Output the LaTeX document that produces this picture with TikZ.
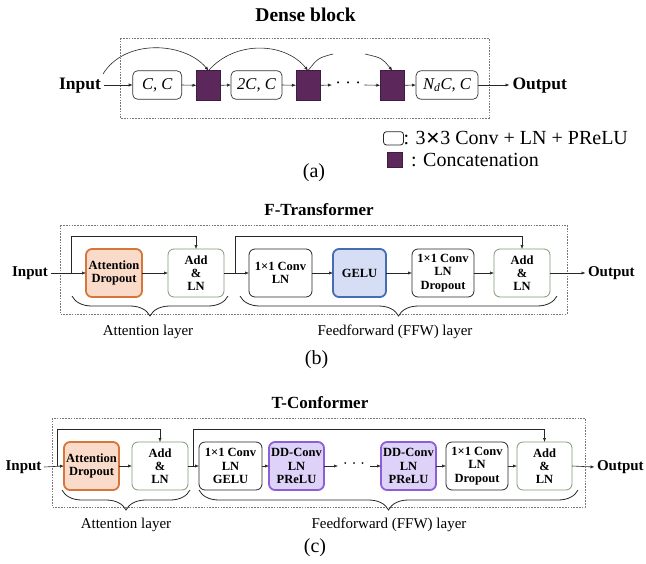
\documentclass[tikz,border=0pt]{standalone}
\usepackage{fontspec}
\setmainfont{Liberation Serif}
\newfontfamily\symfont{DejaVu Sans}
\usetikzlibrary{arrows.meta,decorations.pathreplacing,calc}

\definecolor{catpurple}{RGB}{92,40,92}
\definecolor{attfill}{RGB}{250,218,200}
\definecolor{attline}{RGB}{214,118,58}
\definecolor{gelufill}{RGB}{214,222,245}
\definecolor{geluline}{RGB}{70,108,180}
\definecolor{ddfill}{RGB}{222,210,248}
\definecolor{ddline}{RGB}{140,95,215}
\definecolor{addgreen}{RGB}{125,152,115}
\definecolor{framegray}{RGB}{120,120,120}

\begin{document}
\begin{tikzpicture}[x=1pt,y=-1pt,
  every node/.style={inner sep=0pt, outer sep=0pt},
  arr/.style={-{Latex[length=4pt,width=3.2pt]}, line width=0.6pt, draw=black!85},
  ln/.style={line width=0.6pt, draw=black!85},
  frame/.style={draw=framegray, dash pattern=on 1.6pt off 1.2pt, line width=0.6pt},
  convbox/.style={draw=black!80, rounded corners=5pt, line width=0.7pt,
    minimum height=28.6pt, font=\fontsize{16.5}{18}\selectfont\itshape},
  catbox/.style={fill=catpurple, draw=catpurple!70!black, line width=0.4pt,
    minimum width=24pt, minimum height=29.3pt},
  blk/.style={rounded corners=6pt, minimum height=48pt, align=center,
    font=\fontsize{12.5}{13.3}\selectfont\bfseries},
  plainbox/.style={blk, draw=black!85, line width=0.8pt},
  addbox/.style={blk, draw=addgreen, line width=0.8pt},
  attbox/.style={blk, draw=attline, fill=attfill, line width=1.8pt},
  gelubox/.style={blk, draw=geluline, fill=gelufill, line width=1.8pt},
  ddbox/.style={blk, draw=ddline, fill=ddfill, line width=1.8pt},
  iolabel/.style={font=\fontsize{15}{17}\selectfont\bfseries, inner xsep=2.5pt},
  title/.style={font=\fontsize{17}{19}\selectfont\bfseries},
  sublabel/.style={font=\fontsize{20}{22}\selectfont},
  layerlabel/.style={font=\fontsize{15}{17}\selectfont},
  legendtext/.style={font=\fontsize{20}{22}\selectfont},
  bracedown/.style={decorate, decoration={brace, mirror, amplitude=20pt}, line width=0.8pt, draw=black!85},
  dotsnode/.style={font=\fontsize{17}{17}\selectfont},
]
\useasboundingbox (0,0) rectangle (646,563);

% ---------------- (a) Dense block ----------------
\node[font=\fontsize{19.5}{21}\selectfont\bfseries] (atitle) at (305.6,15) {Dense block};
\draw[frame] (120,38) rectangle (489,118);

\node[font=\fontsize{17.5}{19}\selectfont\bfseries, anchor=east, inner xsep=3pt] (ain) at (104,86) {Input};
\node[convbox, minimum width=49pt] (c1) at (157.2,85) {C, C};
\node[catbox] (p1) at (208.5,85.3) {};
\node[convbox, minimum width=51pt] (c2) at (256.5,85) {2C, C};
\node[catbox] (p2) at (308,85.3) {};
\node[dotsnode, minimum width=32.4pt] (adots) at (348.2,85) {· · ·};
\node[catbox] (p3) at (392.3,85.3) {};
\node[convbox, minimum width=62pt] (c3) at (447,85) {N\textsubscript{d}C, C};
\node[font=\fontsize{17.5}{19}\selectfont\bfseries, anchor=west, inner xsep=3pt] (aout) at (509.5,86) {Output};

\draw[arr] (ain.east |- c1.west) -- (c1.west);
\draw[arr] (c1.east) -- (p1.west);
\draw[arr] (p1.east) -- (c2.west);
\draw[arr] (c2.east) -- (p2.west);
\draw[arr] (p2.east) -- (adots.west);
\draw[arr] (adots.east) -- (p3.west);
\draw[arr] (p3.east) -- (c3.west);
\draw[arr] (c3.east) -- (aout.west |- c3.east);

% dense skip connections
\coordinate (a0) at (103,74);
\coordinate (a3end) at (333,54);
\coordinate (a4start) at (365,54);
\draw[arr] (a0) .. controls (125,38) and (185,42) .. (p1.north);
\draw[arr] (p1.north) .. controls (235,40) and (285,42) .. (p2.north);
\draw[ln] (p2.north) .. controls (318,58) .. (a3end);
\draw[arr] (a4start) .. controls (382,58) .. (p3.north);

% legend
\node[draw=black!85, rounded corners=3pt, line width=0.8pt, minimum width=20pt, minimum height=13.3pt] (legconv) at (393.5,138.3) {};
\node[anchor=west, legendtext] (legconvtxt) at (legconv.east) {: 3{\symfont\fontsize{17.5}{19}\selectfont ✕}3 Conv + LN + PReLU};
\node[catbox, minimum width=15pt, minimum height=15pt] (legcat) at (394.5,159.5) {};
\node[anchor=west, legendtext] (legcattxt) at (411,160) {: Concatenation};

\node[sublabel] (alabel) at (314,173) {(a)};

% ---------------- (b) F-Transformer ----------------
\node[title] (btitle) at (319,210) {F-Transformer};
\draw[frame] (60,225) rectangle (567,314);

\node[iolabel, anchor=east] (bin) at (50.5,273) {Input};
\node[attbox, minimum width=56pt] (batt) at (114,273) {Attention\\Dropout};
\node[addbox, minimum width=56pt] (badd1) at (196,273) {Add\\\&\\LN};
\node[plainbox, minimum width=63pt] (bconv1) at (280.5,273) {1×1 Conv\\LN};
\node[gelubox, minimum width=53pt] (bgelu) at (359.5,273) {GELU};
\node[plainbox, minimum width=62pt] (bconv2) at (443,273) {1×1 Conv\\LN\\Dropout};
\node[addbox, minimum width=56pt] (badd2) at (522,273) {Add\\\&\\LN};
\node[iolabel, anchor=west] (bout) at (585.5,273) {Output};

\draw[arr] (bin.east) -- (batt.west);
\draw[arr] (batt.east) -- (badd1.west);
\draw[arr] (badd1.east) -- (bconv1.west);
\draw[arr] (bconv1.east) -- (bgelu.west);
\draw[arr] (bgelu.east) -- (bconv2.west);
\draw[arr] (bconv2.east) -- (badd2.west);
\draw[arr] (badd2.east) -- (bout.west);

\coordinate (brail) at (0,236);
\coordinate (bs1) at (71,273);
\coordinate (bs2) at (235,273);
\draw[arr] (bs1) -- (bs1 |- brail) -| (badd1.north);
\draw[arr] (bs2) -- (bs2 |- brail) -| (badd2.north);

\coordinate (bb1l) at (72,296);
\coordinate (bb1r) at (228,296);
\coordinate (bb2l) at (240,296);
\coordinate (bb2r) at (557,296);
\draw[bracedown] (bb1l) -- (bb1r);
\draw[bracedown] (bb2l) -- (bb2r);
\node[layerlabel] (batl) at (148,332) {Attention layer};
\node[layerlabel] (bffw) at (395,332) {Feedforward (FFW) layer};

\node[sublabel] (blabel) at (316.5,360) {(b)};

% ---------------- (c) T-Conformer ----------------
\node[title] (ctitle) at (320,403) {T-Conformer};
\draw[frame] (52,418) rectangle (585,507);

\node[iolabel, anchor=east] (cin) at (44,467) {Input};
\node[attbox, minimum width=55pt] (catt) at (91.5,466) {Attention\\Dropout};
\node[addbox, minimum width=56pt] (cadd1) at (160,466) {Add\\\&\\LN};
\node[plainbox, minimum width=63pt] (cconv1) at (230.5,466) {1×1 Conv\\LN\\GELU};
\node[ddbox, minimum width=55pt] (cdd1) at (296.5,466) {DD-Conv\\LN\\PReLU};
\node[dotsnode, font=\fontsize{15}{15}\selectfont, minimum width=32pt] (cdots) at (354,466) {· · ·};
\node[ddbox, minimum width=55pt] (cdd2) at (408.5,466) {DD-Conv\\LN\\PReLU};
\node[plainbox, minimum width=62pt] (cconv2) at (477,466) {1×1 Conv\\LN\\Dropout};
\node[addbox, minimum width=55pt] (cadd2) at (544.5,466) {Add\\\&\\LN};
\node[iolabel, anchor=west] (cout) at (594.5,467) {Output};

\draw[arr] (cin.east) -- (catt.west);
\draw[arr] (catt.east) -- (cadd1.west);
\draw[arr] (cadd1.east) -- (cconv1.west);
\draw[arr] (cconv1.east) -- (cdd1.west);
\draw[arr] (cdd1.east) -- (cdots.west);
\draw[arr] (cdots.east) -- (cdd2.west);
\draw[arr] (cdd2.east) -- (cconv2.west);
\draw[arr] (cconv2.east) -- (cadd2.west);
\draw[arr] (cadd2.east) -- (cout.west);

\coordinate (crail) at (0,429);
\coordinate (cs1) at (57,466);
\coordinate (cs2) at (193,466);
\draw[arr] (cs1) -- (cs1 |- crail) -| (cadd1.north);
\draw[arr] (cs2) -- (cs2 |- crail) -| (cadd2.north);

\coordinate (cb1l) at (62,490);
\coordinate (cb1r) at (190,490);
\coordinate (cb2l) at (199,490);
\coordinate (cb2r) at (578,490);
\draw[bracedown] (cb1l) -- (cb1r);
\draw[bracedown] (cb2l) -- (cb2r);
\node[layerlabel] (catl) at (126,525) {Attention layer};
\node[layerlabel] (cffw) at (389,525) {Feedforward (FFW) layer};

\node[sublabel] (clabel) at (315,548) {(c)};
\end{tikzpicture}
\end{document}
